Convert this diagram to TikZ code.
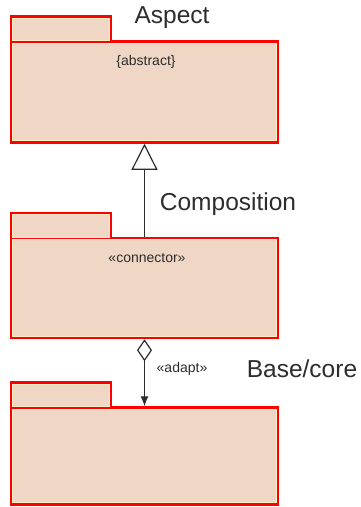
\documentclass[tikz,border=0pt]{standalone}
\usepackage{fontspec}
\setmainfont{Liberation Sans}
\usetikzlibrary{arrows.meta,positioning}
\definecolor{pkgfill}{RGB}{239,214,197}
\definecolor{pkgcream}{RGB}{250,238,196}
\definecolor{pkgtext}{RGB}{45,45,45}
\tikzset{
	pkgbody/.style={draw=red, line width=3.5pt, fill=pkgfill, inner sep=0pt, minimum width=266pt, text width=0pt},
	pkgtab/.style={draw=red, line width=3.5pt, fill=pkgfill, inner sep=0pt, minimum width=99pt, minimum height=25pt, anchor=south west},
	bigtext/.style={font=\fontsize{24.5}{27}\selectfont, text=pkgtext, inner sep=0pt},
	smalltext/.style={font=\fontsize{14}{16}\selectfont, text=pkgtext, inner sep=0pt},
	conline/.style={draw=pkgtext, line width=1.2pt}
}
\def\pkginner#1{\draw[pkgcream, line width=1pt] ([xshift=2.8pt,yshift=-2.8pt]#1.north west) rectangle ([xshift=-2.8pt,yshift=2.8pt]#1.south east);}

\begin{document}
\begin{tikzpicture}[x=1pt,y=-1pt]
			%%%%% START %%%%%
			\useasboundingbox[fill=white] (0,0) rectangle (361,507);
			
			% packages
			\node[pkgbody, minimum height=100pt] (asp) at (144.5,92) {};
			\node[pkgbody, minimum height=99pt] (con) at (144.5,288) {};
			\node[pkgbody, minimum height=96pt] (bas) at (144.5,456) {};
			\node[pkgtab] (asptab) at ([yshift=-3.5pt]asp.north west) {};
			\node[pkgtab] (contab) at ([yshift=-3.5pt]con.north west) {};
			\node[pkgtab] (bastab) at ([yshift=-3.5pt]bas.north west) {};
			\foreach \p in {asptab,asp,contab,con,bastab,bas} {\pkginner{\p}}
			
			% labels
			\node[bigtext] (asplabel) at (172,18) {Aspect};
			\node[smalltext] (aspst) at (146,62) {\{abstract\}};
			\node[bigtext] (conlabel) at (228,204) {Composition};
			\node[smalltext] (const) at (147,258) {«connector»};
			\node[smalltext] (adapt) at (182,369) {«adapt»};
			\node[bigtext] (baslabel) at (302,369) {Base/core};
			
			% connectors
			\draw[conline, -{Triangle[open, width=26pt, length=26pt, line width=1.2pt]}] (con.north) -- (asp.south);
			\draw[conline, {Diamond[open, width=15pt, length=22pt, line width=1.2pt]}-{Latex[width=8pt, length=10pt]}] (con.south) -- (bas.north);
			
			%%%%% END %%%%%
		\end{tikzpicture}
\end{document}
